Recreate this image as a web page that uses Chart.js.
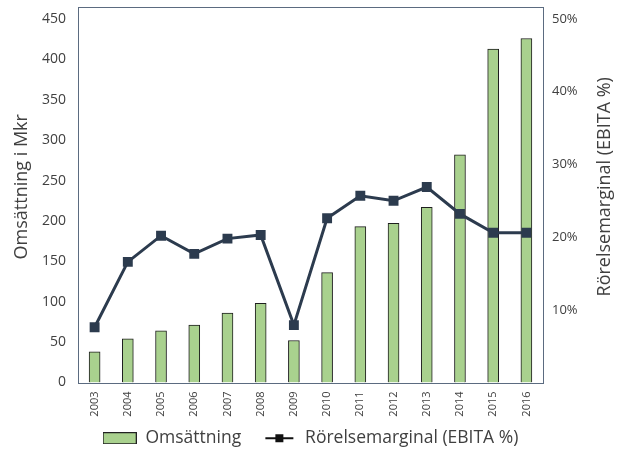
<!DOCTYPE html>
<html lang="sv">
<head>
  <meta charset="UTF-8" />
  <title>Omsättning och rörelsemarginal</title>
  <script src="https://cdn.jsdelivr.net/npm/chart.js"></script>
  <style>
    html, body { margin: 0; padding: 0; background: #fff; }
    #wrap { width: 621px; height: 450px; }
  </style>
</head>
<body>
  <div id="wrap"><canvas id="chart" width="621" height="450"></canvas></div>

  <script>
    const years = ['2003', '2004', '2005', '2006', '2007', '2008', '2009',
                   '2010', '2011', '2012', '2013', '2014', '2015', '2016'];
    const omsattning = [38, 54, 64, 71, 86, 98, 52, 136, 193, 197, 217, 282, 413, 426];
    const marginal = [7.6, 16.6, 20.2, 17.7, 19.8, 20.3, 7.9, 22.6, 25.7, 25.0, 26.9, 23.2, 20.6, 20.6];
    const leftTicks = [0, 50, 100, 150, 200, 250, 300, 350, 400, 450];
    const rightTicks = [10, 20, 30, 40, 50];
    const leftTitle = 'Omsättning i Mkr';
    const rightTitle = 'Rörelsemarginal (EBITA %)';

    const green = '#a9d18e';
    const navy = '#2c3b4e';
    const textColor = '#404040';
    const fontFamily = "'Open Sans', 'Noto Sans', sans-serif";

    Chart.defaults.font.family = fontFamily;
    Chart.defaults.color = textColor;

    // små bilder till legenden
    function barIcon() {
      const c = document.createElement('canvas');
      c.width = 34; c.height = 12;
      const g = c.getContext('2d');
      g.fillStyle = green;
      g.fillRect(0, 0, 34, 12);
      g.strokeStyle = '#222';
      g.lineWidth = 1;
      g.strokeRect(0.5, 0.5, 33, 11);
      return c;
    }
    function lineIcon() {
      const c = document.createElement('canvas');
      c.width = 30; c.height = 10;
      const g = c.getContext('2d');
      g.fillStyle = '#111';
      g.fillRect(1, 4, 28, 2);
      g.fillRect(11, 1, 8, 8);
      return c;
    }

    // ram runt ritytan + axeltitlar som läses nedifrån och upp
    const frame = {
      id: 'frame',
      afterDraw(chart) {
        const a = chart.chartArea;
        const ctx = chart.ctx;
        ctx.save();
        ctx.strokeStyle = '#5b6b80';
        ctx.lineWidth = 1;
        ctx.strokeRect(Math.round(a.left) + 0.5, Math.round(a.top) + 0.5,
                       Math.round(a.right - a.left), Math.round(a.bottom - a.top));
        ctx.fillStyle = textColor;
        ctx.font = '18px ' + fontFamily;
        ctx.textAlign = 'center';
        ctx.textBaseline = 'middle';
        const midY = (a.top + a.bottom) / 2 - 8;
        [[22, leftTitle], [605, rightTitle]].forEach(([x, t]) => {
          ctx.save();
          ctx.translate(x, midY);
          ctx.rotate(-Math.PI / 2);
          ctx.fillText(t, 0, 0);
          ctx.restore();
        });
        ctx.restore();
      }
    };

    new Chart(document.getElementById('chart'), {
      type: 'bar',
      data: {
        labels: years,
        datasets: [
          {
            type: 'bar',
            label: 'Omsättning',
            data: omsattning,
            yAxisID: 'y',
            backgroundColor: green,
            borderColor: '#1e1e1e',
            borderWidth: 1,
            barThickness: 11,
            order: 2
          },
          {
            type: 'line',
            label: 'Rörelsemarginal (EBITA %)',
            data: marginal,
            yAxisID: 'y1',
            borderColor: navy,
            borderWidth: 3,
            pointStyle: 'rect',
            pointRadius: 7,
            pointBackgroundColor: navy,
            pointBorderColor: navy,
            pointBorderWidth: 0,
            tension: 0,
            order: 1
          }
        ]
      },
      options: {
        responsive: false,
        animation: false,
        layout: { padding: { top: 7, bottom: -7, left: 0, right: 0 } },
        plugins: {
          tooltip: { enabled: false },
          legend: {
            position: 'bottom',
            labels: {
              usePointStyle: true,
              pointStyleWidth: 34,
              boxHeight: 12,
              padding: 3,
              color: textColor,
              font: { size: 17.5 },
              generateLabels() {
                return [
                  { text: 'Omsättning    ', pointStyle: barIcon(), datasetIndex: 0, fontColor: textColor, hidden: false },
                  { text: 'Rörelsemarginal (EBITA %)', pointStyle: lineIcon(), datasetIndex: 1, fontColor: textColor, hidden: false }
                ];
              }
            }
          }
        },
        scales: {
          x: {
            grid: { display: false, drawTicks: false },
            border: { display: false },
            ticks: { minRotation: 90, maxRotation: 90, font: { size: 11 }, padding: 9 },
            afterFit(axis) { axis.height = 44; }
          },
          y: {
            position: 'left',
            min: 0,
            max: 465,
            grid: { display: false, drawTicks: false },
            border: { display: false },
            ticks: { stepSize: 50, font: { size: 14 }, padding: 12 },
            afterBuildTicks(axis) {
              axis.ticks = leftTicks.map(v => ({ value: v }));
            },
            afterFit(axis) {
              axis.width = 78;
              axis.paddingTop = 0;
              axis.paddingBottom = 0;
            }
          },
          y1: {
            position: 'right',
            min: 0,
            max: 465 / 9,
            grid: { display: false, drawTicks: false },
            border: { display: false },
            ticks: { stepSize: 10, font: { size: 13 }, padding: 9, callback: v => v + '%' },
            afterBuildTicks(axis) {
              axis.ticks = rightTicks.map(v => ({ value: v }));
            },
            afterFit(axis) {
              axis.width = 78;
              axis.paddingTop = 0;
              axis.paddingBottom = 0;
            }
          }
        }
      },
      plugins: [frame]
    });
  </script>
</body>
</html>
